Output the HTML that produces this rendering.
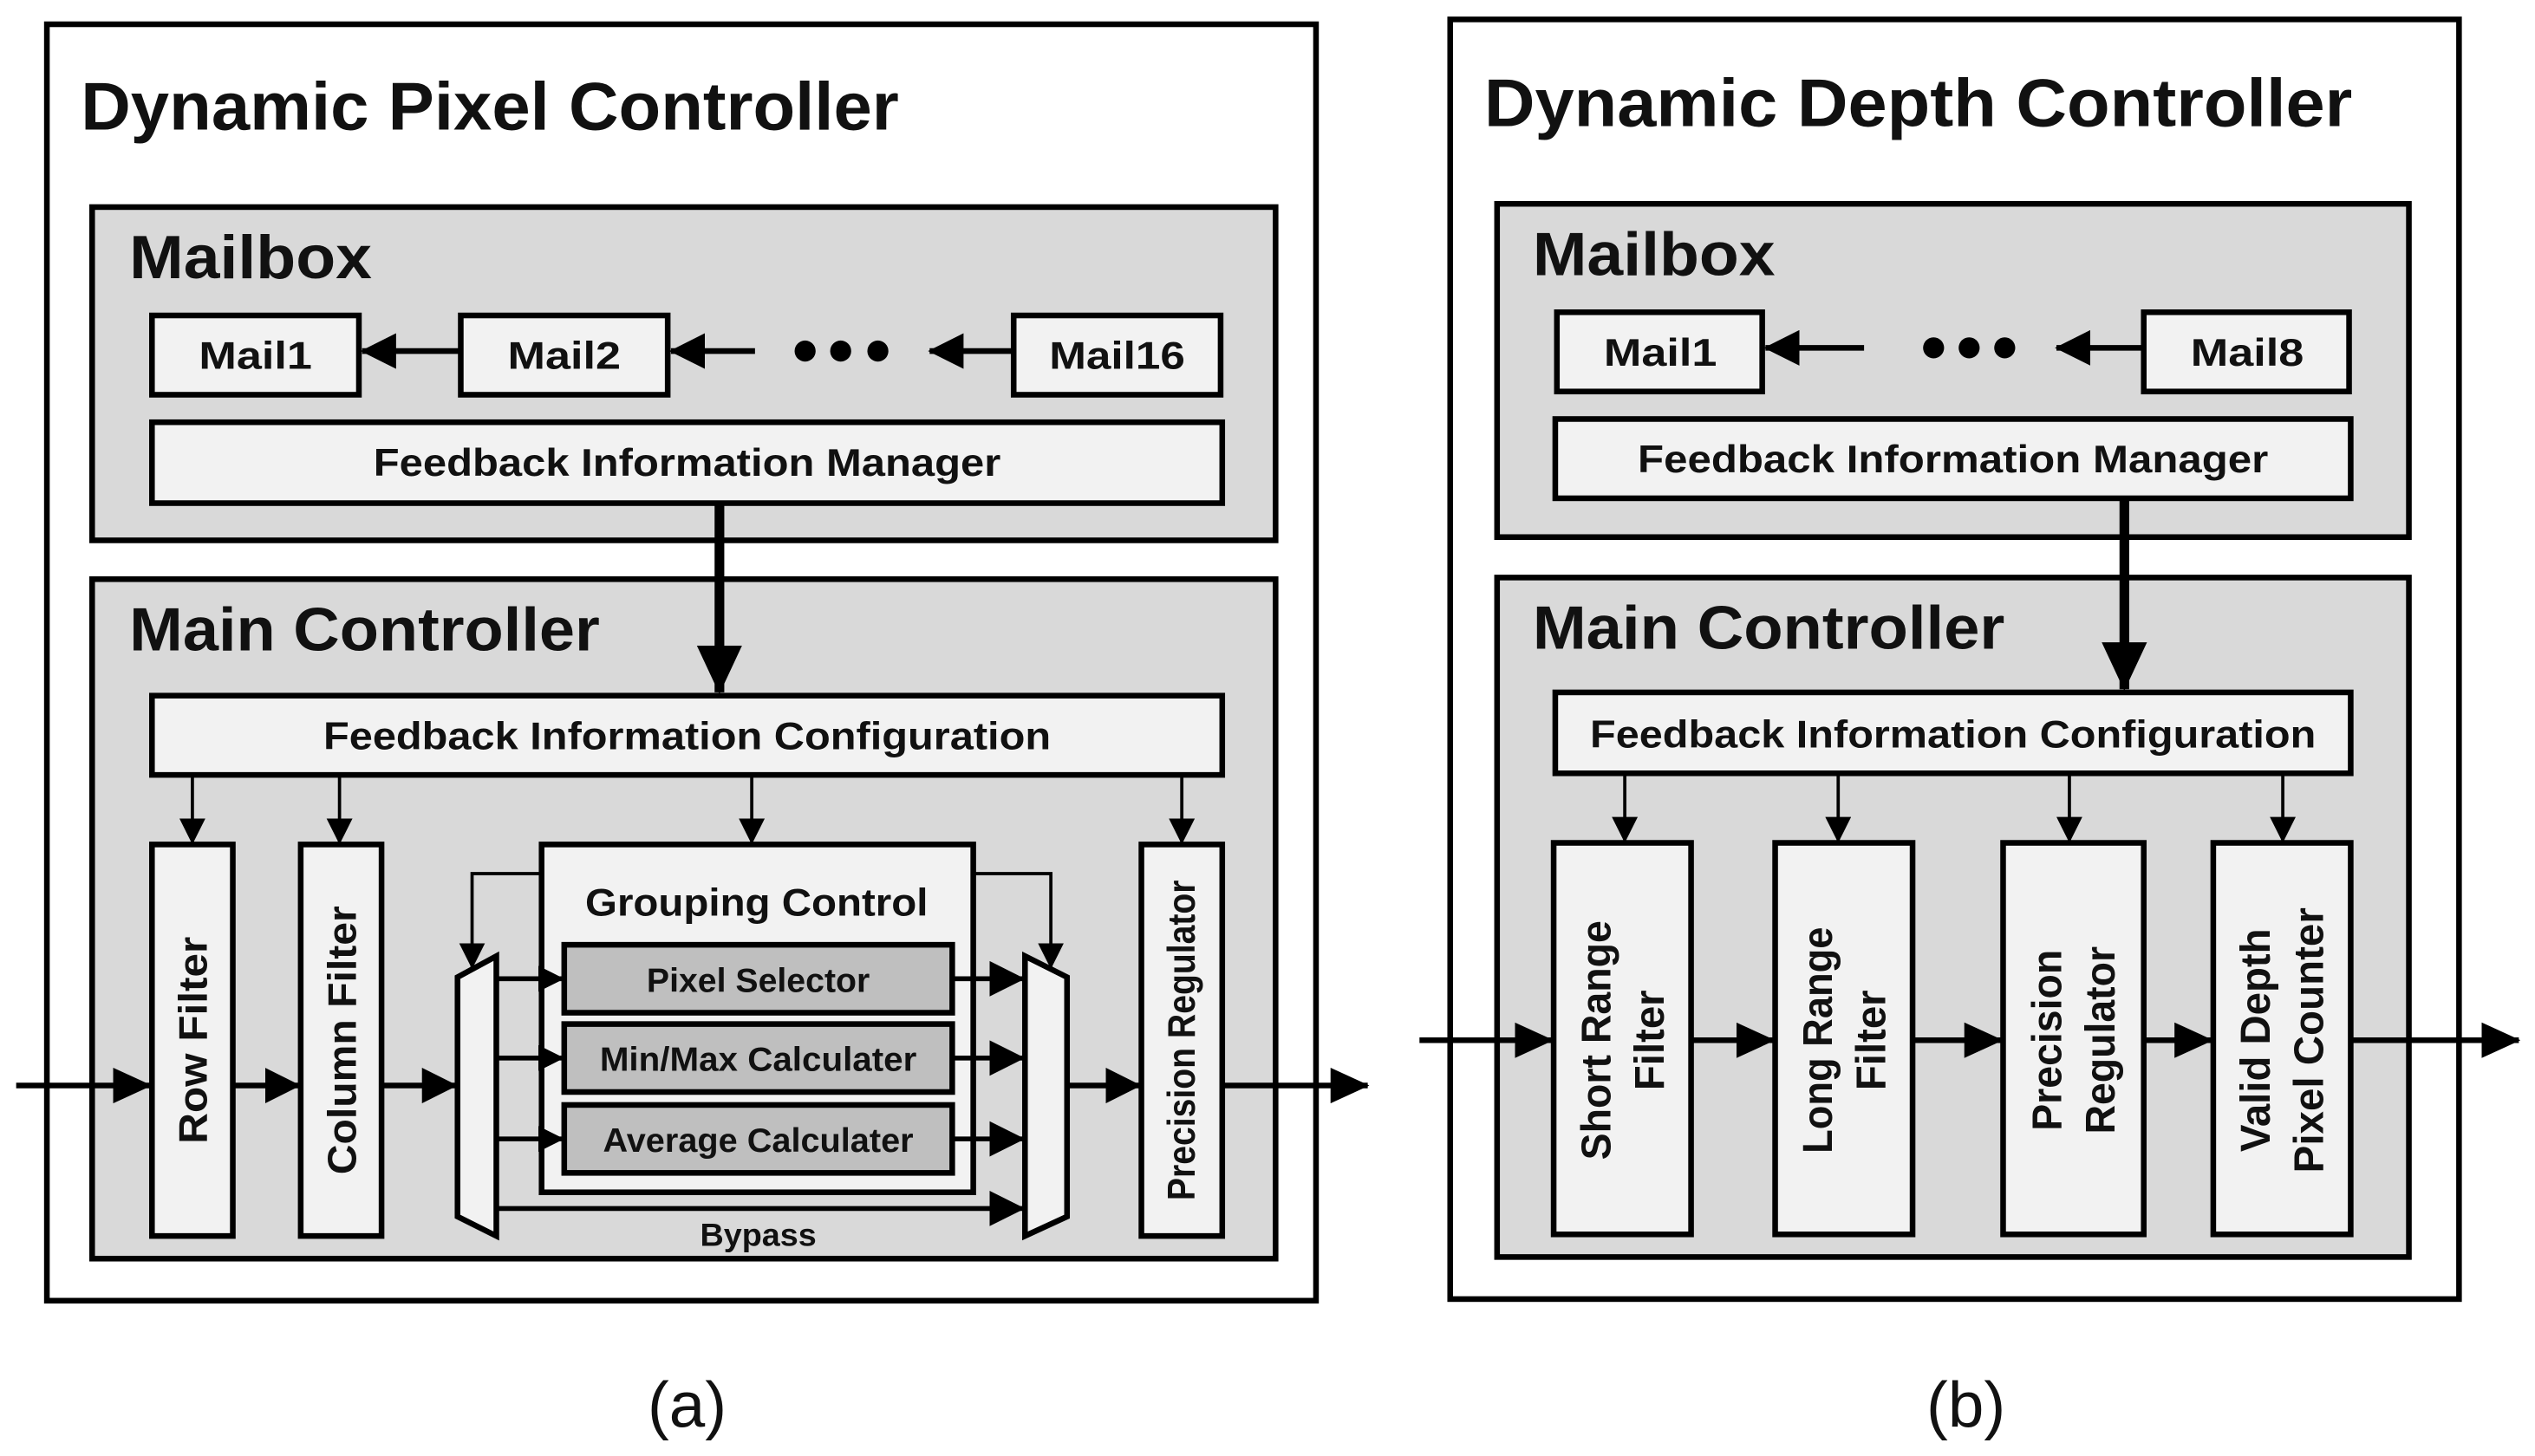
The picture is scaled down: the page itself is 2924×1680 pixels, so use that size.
<!DOCTYPE html>
<html><head><meta charset="utf-8"><style>html,body{margin:0;padding:0;background:#fff}svg{display:block}text{font-family:"Liberation Sans",sans-serif;font-weight:bold;fill:#111}</style></head><body>
<svg width="2924" height="1680" viewBox="0 0 1568 900" preserveAspectRatio="none" xmlns="http://www.w3.org/2000/svg">
<defs>
<marker id="b" markerUnits="userSpaceOnUse" markerWidth="24" markerHeight="22" refX="23" refY="11" orient="auto"><path d="M0,0 L24,11 L0,22z" fill="#000"/></marker>
<marker id="m" markerUnits="userSpaceOnUse" markerWidth="22" markerHeight="22" refX="21" refY="11" orient="auto"><path d="M0,0 L22,11 L0,22z" fill="#000"/></marker>
<marker id="s" markerUnits="userSpaceOnUse" markerWidth="16" markerHeight="16" refX="15" refY="8" orient="auto"><path d="M0,0 L16,8 L0,16z" fill="#000"/></marker>
<marker id="t" markerUnits="userSpaceOnUse" markerWidth="30" markerHeight="28" refX="29" refY="14" orient="auto"><path d="M0,0 L30,14 L0,28z" fill="#000"/></marker>
</defs>
<g stroke="#000" stroke-width="3.5">
<rect x="29" y="15" width="785" height="789" fill="#fff"/>
<rect x="57" y="128" width="732" height="206" fill="#d9d9d9"/>
<rect x="94" y="195" width="128" height="49" fill="#f2f2f2"/>
<rect x="285" y="195" width="128" height="49" fill="#f2f2f2"/>
<rect x="627" y="195" width="128" height="49" fill="#f2f2f2"/>
<rect x="94" y="261" width="662" height="50" fill="#f2f2f2"/>
<rect x="57" y="358" width="732" height="420" fill="#d9d9d9"/>
<rect x="94" y="430" width="662" height="49" fill="#f2f2f2"/>
<rect x="94" y="522" width="50" height="242" fill="#f2f2f2"/>
<rect x="186" y="522" width="50" height="242" fill="#f2f2f2"/>
<rect x="706" y="522" width="50" height="242" fill="#f2f2f2"/>
<rect x="335" y="522" width="267" height="215" fill="#f2f2f2"/>
<rect x="349" y="584" width="240" height="42" fill="#bfbfbf"/>
<rect x="349" y="633" width="240" height="42" fill="#bfbfbf"/>
<rect x="349" y="683" width="240" height="42" fill="#bfbfbf"/>
<polygon points="283,604 307,591 307,764 283,752" fill="#f2f2f2"/>
<polygon points="634,591 660,604 660,752 634,764" fill="#f2f2f2"/>
</g>
<g stroke="#000" fill="none">
<line x1="285" y1="217" x2="224" y2="217" stroke-width="3.5" marker-end="url(#m)"/>
<line x1="467" y1="217" x2="415" y2="217" stroke-width="3.5" marker-end="url(#m)"/>
<line x1="627" y1="217" x2="575" y2="217" stroke-width="3.5" marker-end="url(#m)"/>
<line x1="445" y1="311" x2="445" y2="428" stroke-width="6" marker-end="url(#t)"/>
<line x1="119" y1="479" x2="119" y2="521" stroke-width="2" marker-end="url(#s)"/>
<line x1="210" y1="479" x2="210" y2="521" stroke-width="2" marker-end="url(#s)"/>
<line x1="465" y1="479" x2="465" y2="521" stroke-width="2" marker-end="url(#s)"/>
<line x1="731" y1="479" x2="731" y2="521" stroke-width="2" marker-end="url(#s)"/>
<polyline points="335,540 292,540 292,598" stroke-width="2" marker-end="url(#s)"/>
<polyline points="602,540 650,540 650,598" stroke-width="2" marker-end="url(#s)"/>
<line x1="307" y1="605" x2="348" y2="605" stroke-width="3" marker-end="url(#s)"/>
<line x1="307" y1="654" x2="348" y2="654" stroke-width="3" marker-end="url(#s)"/>
<line x1="307" y1="704" x2="348" y2="704" stroke-width="3" marker-end="url(#s)"/>
<line x1="589" y1="605" x2="633" y2="605" stroke-width="3" marker-end="url(#m)"/>
<line x1="589" y1="654" x2="633" y2="654" stroke-width="3" marker-end="url(#m)"/>
<line x1="589" y1="704" x2="633" y2="704" stroke-width="3" marker-end="url(#m)"/>
<line x1="307" y1="747" x2="633" y2="747" stroke-width="3" marker-end="url(#m)"/>
<line x1="10" y1="671" x2="93" y2="671" stroke-width="3.5" marker-end="url(#b)"/>
<line x1="144" y1="671" x2="185" y2="671" stroke-width="3.5" marker-end="url(#m)"/>
<line x1="236" y1="671" x2="282" y2="671" stroke-width="3.5" marker-end="url(#m)"/>
<line x1="660" y1="671" x2="705" y2="671" stroke-width="3.5" marker-end="url(#m)"/>
<line x1="756" y1="671" x2="846" y2="671" stroke-width="3.5" marker-end="url(#b)"/>
</g>
<text x="50" y="80" font-size="42" textLength="506" lengthAdjust="spacingAndGlyphs">Dynamic Pixel Controller</text>
<text x="80" y="172" font-size="38" textLength="150" lengthAdjust="spacingAndGlyphs">Mailbox</text>
<text x="80" y="402" font-size="38" textLength="291" lengthAdjust="spacingAndGlyphs">Main Controller</text>
<g font-size="24" text-anchor="middle">
<text x="158" y="228" textLength="70" lengthAdjust="spacingAndGlyphs">Mail1</text>
<text x="349" y="228" textLength="70" lengthAdjust="spacingAndGlyphs">Mail2</text>
<text x="691" y="228" textLength="84" lengthAdjust="spacingAndGlyphs">Mail16</text>
<text x="425" y="294" textLength="388" lengthAdjust="spacingAndGlyphs">Feedback Information Manager</text>
<text x="425" y="463" textLength="450" lengthAdjust="spacingAndGlyphs">Feedback Information Configuration</text>
<text x="468" y="566" textLength="212" lengthAdjust="spacingAndGlyphs">Grouping Control</text>
<text x="469" y="613" font-size="21" textLength="138" lengthAdjust="spacingAndGlyphs">Pixel Selector</text>
<text x="469" y="662" font-size="21" textLength="196" lengthAdjust="spacingAndGlyphs">Min/Max Calculater</text>
<text x="469" y="712" font-size="21" textLength="192" lengthAdjust="spacingAndGlyphs">Average Calculater</text>
<text x="469" y="770" font-size="20" textLength="72" lengthAdjust="spacingAndGlyphs">Bypass</text>
<text transform="translate(128,643) rotate(-90)" font-size="25" textLength="128" lengthAdjust="spacingAndGlyphs">Row Filter</text>
<text transform="translate(220,643) rotate(-90)" font-size="25" textLength="166" lengthAdjust="spacingAndGlyphs">Column Filter</text>
<text transform="translate(739,643) rotate(-90)" font-size="24" textLength="198" lengthAdjust="spacingAndGlyphs">Precision Regulator</text>
</g>
<g stroke="#000" stroke-width="3.5">
<rect x="897" y="12" width="624" height="791" fill="#fff"/>
<rect x="926" y="126" width="564" height="206" fill="#d9d9d9"/>
<rect x="963" y="193" width="127" height="49" fill="#f2f2f2"/>
<rect x="1326" y="193" width="127" height="49" fill="#f2f2f2"/>
<rect x="962" y="259" width="492" height="49" fill="#f2f2f2"/>
<rect x="926" y="357" width="564" height="420" fill="#d9d9d9"/>
<rect x="962" y="428" width="492" height="50" fill="#f2f2f2"/>
<rect x="961" y="521" width="85" height="242" fill="#f2f2f2"/>
<rect x="1098" y="521" width="85" height="242" fill="#f2f2f2"/>
<rect x="1239" y="521" width="87" height="242" fill="#f2f2f2"/>
<rect x="1369" y="521" width="85" height="242" fill="#f2f2f2"/>
</g>
<g fill="#000"><circle cx="498" cy="217" r="6.5"/><circle cx="520" cy="217" r="6.5"/><circle cx="543" cy="217" r="6.5"/>
<circle cx="1196" cy="215" r="6.5"/><circle cx="1218" cy="215" r="6.5"/><circle cx="1240" cy="215" r="6.5"/></g>
<g stroke="#000" fill="none">
<line x1="1153" y1="215" x2="1092" y2="215" stroke-width="3.5" marker-end="url(#m)"/>
<line x1="1326" y1="215" x2="1272" y2="215" stroke-width="3.5" marker-end="url(#m)"/>
<line x1="1314" y1="308" x2="1314" y2="426" stroke-width="6" marker-end="url(#t)"/>
<line x1="1005" y1="478" x2="1005" y2="520" stroke-width="2" marker-end="url(#s)"/>
<line x1="1137" y1="478" x2="1137" y2="520" stroke-width="2" marker-end="url(#s)"/>
<line x1="1280" y1="478" x2="1280" y2="520" stroke-width="2" marker-end="url(#s)"/>
<line x1="1412" y1="478" x2="1412" y2="520" stroke-width="2" marker-end="url(#s)"/>
<line x1="878" y1="643" x2="960" y2="643" stroke-width="3.5" marker-end="url(#b)"/>
<line x1="1046" y1="643" x2="1097" y2="643" stroke-width="3.5" marker-end="url(#b)"/>
<line x1="1183" y1="643" x2="1238" y2="643" stroke-width="3.5" marker-end="url(#b)"/>
<line x1="1326" y1="643" x2="1368" y2="643" stroke-width="3.5" marker-end="url(#b)"/>
<line x1="1454" y1="643" x2="1558" y2="643" stroke-width="3.5" marker-end="url(#b)"/>
</g>
<text x="918" y="78" font-size="42" textLength="537" lengthAdjust="spacingAndGlyphs">Dynamic Depth Controller</text>
<text x="948" y="170" font-size="38" textLength="150" lengthAdjust="spacingAndGlyphs">Mailbox</text>
<text x="948" y="401" font-size="38" textLength="292" lengthAdjust="spacingAndGlyphs">Main Controller</text>
<g font-size="24" text-anchor="middle">
<text x="1027" y="226" textLength="70" lengthAdjust="spacingAndGlyphs">Mail1</text>
<text x="1390" y="226" textLength="70" lengthAdjust="spacingAndGlyphs">Mail8</text>
<text x="1208" y="292" textLength="390" lengthAdjust="spacingAndGlyphs">Feedback Information Manager</text>
<text x="1208" y="462" textLength="449" lengthAdjust="spacingAndGlyphs">Feedback Information Configuration</text>
<text transform="translate(1003,643) rotate(-90)" font-size="26"><tspan x="0" y="-7" textLength="148" lengthAdjust="spacingAndGlyphs">Short Range</tspan><tspan x="0" y="26" textLength="62" lengthAdjust="spacingAndGlyphs">Filter</tspan></text>
<text transform="translate(1140,643) rotate(-90)" font-size="26"><tspan x="0" y="-7" textLength="140" lengthAdjust="spacingAndGlyphs">Long Range</tspan><tspan x="0" y="26" textLength="62" lengthAdjust="spacingAndGlyphs">Filter</tspan></text>
<text transform="translate(1282,643) rotate(-90)" font-size="26"><tspan x="0" y="-7" textLength="112" lengthAdjust="spacingAndGlyphs">Precision</tspan><tspan x="0" y="26" textLength="116" lengthAdjust="spacingAndGlyphs">Regulator</tspan></text>
<text transform="translate(1411,643) rotate(-90)" font-size="26"><tspan x="0" y="-7" textLength="138" lengthAdjust="spacingAndGlyphs">Valid Depth</tspan><tspan x="0" y="26" textLength="164" lengthAdjust="spacingAndGlyphs">Pixel Counter</tspan></text>
</g>
<text x="425" y="882" font-size="40" text-anchor="middle" style="font-weight:normal">(a)</text>
<text x="1216" y="882" font-size="40" text-anchor="middle" style="font-weight:normal">(b)</text>
</svg>
</body></html>
